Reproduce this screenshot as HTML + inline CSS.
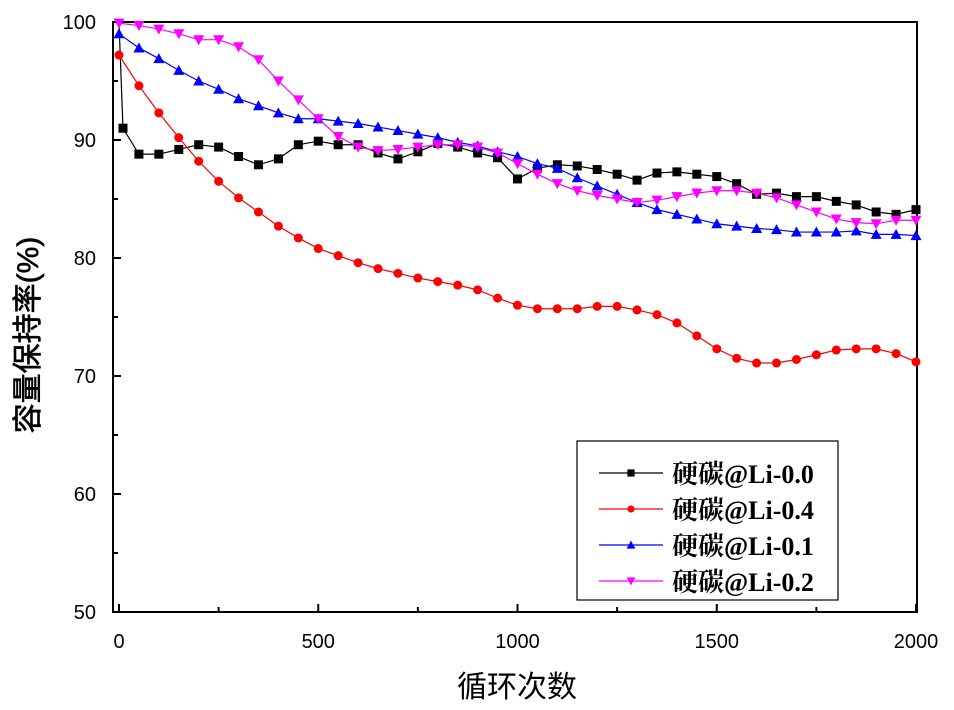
<!DOCTYPE html>
<html><head><meta charset="utf-8">
<style>
html,body{margin:0;padding:0;background:#fff;width:954px;height:710px;overflow:hidden}
svg text{font-family:"Liberation Sans","Noto Sans CJK SC",sans-serif}
svg text.serif{font-family:"Liberation Serif","Noto Serif CJK SC",serif;font-weight:bold}
</style></head>
<body>
<svg id="chart" width="954" height="710" xmlns="http://www.w3.org/2000/svg">
<g id="plot"></g>
</svg>
<script>
const xs=[0,50,100,150,200,250,300,350,400,450,500,550,600,650,700,750,800,850,900,950,1000,1050,1100,1150,1200,1250,1300,1350,1400,1450,1500,1550,1600,1650,1700,1750,1800,1850,1900,1950,2000];
const blackX=[0,10].concat(xs.slice(1));
const blackY=[100,91,88.8,88.8,89.2,89.6,89.4,88.6,87.9,88.4,89.6,89.9,89.6,89.6,88.9,88.4,89.0,89.7,89.4,88.9,88.5,86.7,87.6,87.9,87.8,87.5,87.1,86.6,87.2,87.3,87.1,86.9,86.3,85.4,85.5,85.2,85.2,84.8,84.5,83.9,83.7,84.1];
const redY=[97.2,94.6,92.3,90.2,88.2,86.5,85.1,83.9,82.7,81.7,80.8,80.2,79.6,79.1,78.7,78.3,78.0,77.7,77.3,76.6,76.0,75.7,75.7,75.7,75.9,75.9,75.6,75.2,74.5,73.4,72.3,71.5,71.1,71.1,71.4,71.8,72.2,72.3,72.3,71.9,71.2];
const blueY=[99,97.8,96.9,95.9,95.0,94.3,93.5,92.9,92.3,91.8,91.8,91.6,91.4,91.1,90.8,90.5,90.2,89.8,89.5,89.0,88.6,88.0,87.6,86.8,86.1,85.4,84.7,84.1,83.7,83.3,82.9,82.7,82.5,82.4,82.2,82.2,82.2,82.3,82.0,82.0,81.9];
const magY=[99.9,99.7,99.4,99.0,98.5,98.5,97.9,96.8,95.0,93.4,91.8,90.3,89.4,89.1,89.2,89.4,89.6,89.6,89.4,88.9,88.0,87.1,86.3,85.7,85.3,85.0,84.7,84.9,85.2,85.5,85.7,85.7,85.5,85.1,84.5,83.9,83.3,83.0,82.9,83.2,83.2];
const xTicks=[0,500,1000,1500,2000];
const yTicks=[50,60,70,80,90,100];
const names=["硬碳@Li-0.0","硬碳@Li-0.4","硬碳@Li-0.1","硬碳@Li-0.2"];

const L=113,R=917,T=22,B=612;
const X=v=>119+(v)*(916-119)/2000;
const Y=v=>B-(v-50)*(B-T)/50;
const NS="http://www.w3.org/2000/svg";
const g=document.getElementById('plot');
function mk(tag,attrs,parent){const e=document.createElementNS(NS,tag);for(const k in attrs)e.setAttribute(k,attrs[k]);(parent||g).appendChild(e);return e;}

const fr=mk('rect',{x:L,y:T,width:R-L,height:B-T,fill:'none',stroke:'#000','stroke-width':2});



for(let v=50;v<=100;v+=5){const t=mk('line',{x1:L,x2:L+(v%10===0?8:5),y1:Y(v),y2:Y(v),stroke:'#000','stroke-width':2});

}
yTicks.forEach(v=>{const t=mk('text',{x:96,y:Y(v)+7,'text-anchor':'end','font-size':20});t.textContent=v;

});
for(let v=0;v<=2000;v+=250){const t=mk('line',{x1:X(v),x2:X(v),y1:B,y2:B-(v%500===0?8:5),stroke:'#000','stroke-width':2});

}
xTicks.forEach(v=>{const t=mk('text',{x:X(v),y:648,'text-anchor':'middle','font-size':20});t.textContent=v;

});

const xt=mk('text',{x:517,y:697,'text-anchor':'middle','font-size':30});xt.textContent='循环次数';


const yt=mk('text',{x:0,y:0,'text-anchor':'middle','font-size':30,'stroke':'#000','stroke-width':0.6,transform:'translate(38,335) rotate(-90)'});yt.textContent='容量保持率(%)';



function marker(type,cx,cy,col,parent,s){
 s=s||1;
 if(type==='sq')return mk('rect',{x:cx-4.5*s,y:cy-4.5*s,width:9*s,height:9*s,fill:col},parent);
 if(type==='ci')return mk('circle',{cx:cx,cy:cy,r:4.5*s,fill:col},parent);
 if(type==='up')return mk('polygon',{points:`${cx},${cy-5.5*s} ${cx-5.5*s},${cy+4.5*s} ${cx+5.5*s},${cy+4.5*s}`,fill:col},parent);
 return mk('polygon',{points:`${cx},${cy+5.5*s} ${cx-5.5*s},${cy-4.5*s} ${cx+5.5*s},${cy-4.5*s}`,fill:col},parent);
}
const series=[
 {x:blackX,y:blackY,c:'#000',m:'sq',n:'series-li-0-0'},
 {x:xs,y:redY,c:'#f00',m:'ci',n:'series-li-0-4'},
 {x:xs,y:blueY,c:'#00f',m:'up',n:'series-li-0-1'},
 {x:xs,y:magY,c:'#f0f',m:'dn',n:'series-li-0-2'}];
series.forEach(s=>{
 const grp=mk('g',{});
 
 
 const pl=mk('polyline',{points:s.x.map((v,i)=>X(v)+','+Y(s.y[i])).join(' '),fill:'none',stroke:s.c,'stroke-width':1.2},grp);
 
 
 s.x.forEach((v,i)=>{if(s.m==='sq'&&i===0)return;const p=marker(s.m,X(v),Y(s.y[i]),s.c,grp);
 
 });
});

const lg=mk('g',{});


mk('rect',{x:577,y:441,width:261,height:159,fill:'#fff',stroke:'#000','stroke-width':1.2},lg);
series.forEach((s,i)=>{
 const yy=473+i*36;
 const e=mk('g',{},lg);
 
 
 mk('line',{x1:599,x2:663,y1:yy,y2:yy,stroke:s.c,'stroke-width':1.2},e);
 marker(s.m,631,yy,s.c,e,0.8);
 const t=mk('text',{x:672,y:yy+10,'font-size':26,'class':'serif'},e);
 t.textContent=names[i];
});
</script>
</body></html>
